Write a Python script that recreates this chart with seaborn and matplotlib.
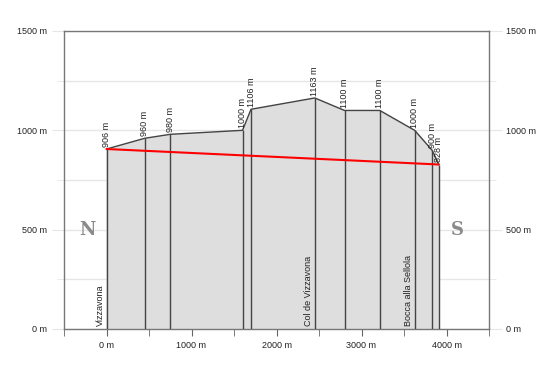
import numpy as np
import pandas as pd
import matplotlib
matplotlib.use("Agg")
import matplotlib.pyplot as plt
import seaborn as sns

# Дані профілю: відстань (м) і висота (м)
dist = [0, 450, 750, 1600, 1700, 2450, 2800, 3215, 3625, 3830, 3910]
elev = [906, 960, 980, 1000, 1106, 1163, 1100, 1100, 1000, 900, 828]

# Назви місць на профілі
place_names = ["Vizzavona", "Col de Vizzavona", "Bocca alla Sellola"]
place_dist = [0, 2450, 3625]

# Пряма лінія між початком і кінцем
straight_x = [dist[0], dist[-1]]
straight_y = [elev[0], elev[-1]]

sns.set_style("white")
plt.rcParams['font.family'] = ['Liberation Sans', 'DejaVu Sans']

df = pd.DataFrame({"dist": dist, "elev": elev})

fig = plt.figure(figsize=(5.5, 3.69), dpi=100)
ax = fig.add_axes([64 / 550, 1 - 329 / 369, 425 / 550, 298 / 369])

# Сітка
ax.set_yticks([0, 500, 1000, 1500])
ax.set_yticks([250, 750, 1250], minor=True)
ax.grid(True, which="both", axis="y", color="#e6e6e6", lw=1)
ax.grid(False, axis="x")
ax.set_axisbelow(True)

# Заливка під профілем
ax.fill_between(df["dist"], 0, df["elev"], color="#dedede", zorder=2)
ax.vlines(df["dist"], 0, df["elev"], color="#444444", lw=1, zorder=3)
sns.lineplot(data=df, x="dist", y="elev", color="#444444", lw=1, ax=ax, zorder=4)
sns.lineplot(x=straight_x, y=straight_y, color="#ff0000", lw=1.5, ax=ax, zorder=5)

# Підписи висот
for d, e in zip(dist, elev):
    ax.text(d, e + 12, f"{e} m", rotation=90, ha="center", va="bottom",
            fontsize=6.5, color="#222222", zorder=6)

# Назви місць
for name, d in zip(place_names, place_dist):
    ax.text(d - 15, 15, name, rotation=90, ha="right", va="bottom",
            fontsize=6.5, color="#222222", zorder=6)

# Сторони світу
ax.text(-220, 500, "N", fontsize=13, family="DejaVu Serif", color="#8a8a8a",
        ha="center", va="center", fontweight="bold")
ax.text(4125, 500, "S", fontsize=13, family="DejaVu Serif", color="#8a8a8a",
        ha="center", va="center", fontweight="bold")

ax.set_xlim(-500, 4500)
ax.set_ylim(0, 1500)
ax.set_xticks([0, 1000, 2000, 3000, 4000])
ax.set_xticks([-500, 500, 1500, 2500, 3500, 4500], minor=True)
ax.set_xticklabels([f"{v} m" for v in [0, 1000, 2000, 3000, 4000]])
ax.set_yticklabels([f"{v} m" for v in [0, 500, 1000, 1500]])
ax.set_xlabel("")
ax.set_ylabel("")

ax.tick_params(axis="y", which="both", left=True, right=True, labelleft=True,
               labelright=True, color="#e6e6e6", labelsize=6.5,
               labelcolor="#222222", pad=3)
ax.tick_params(axis="y", which="major", length=9)
ax.tick_params(axis="y", which="minor", length=5)
ax.tick_params(axis="x", which="both", bottom=True, color="#666666", length=5,
               labelsize=6.5, labelcolor="#222222", pad=4)

for s in ax.spines.values():
    s.set_color("#777777")
    s.set_linewidth(1)

plt.savefig("out.png", dpi=100)
